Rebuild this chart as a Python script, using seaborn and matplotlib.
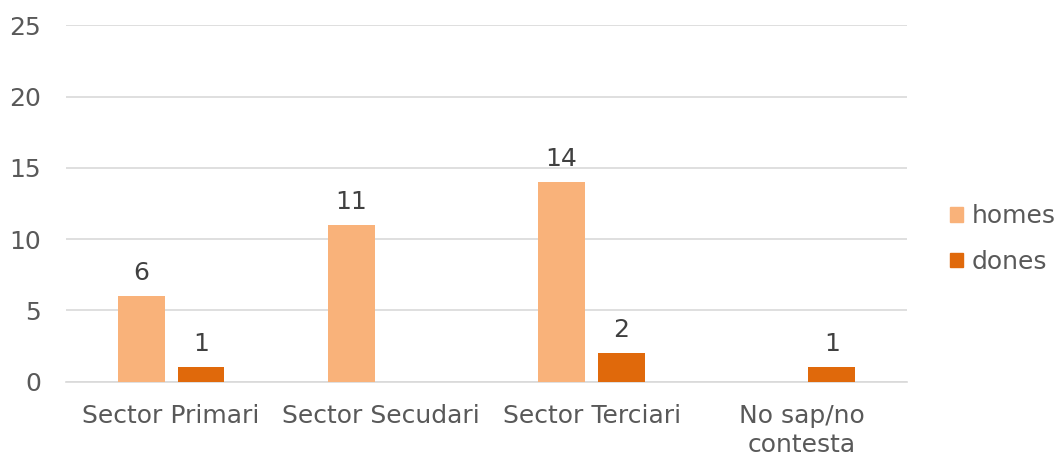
import matplotlib
matplotlib.use("Agg")
import matplotlib.pyplot as plt
import seaborn as sns
import pandas as pd
from matplotlib.patches import Patch

categories = ["Sector Primari", "Sector Secudari", "Sector Terciari", "No sap/no\ncontesta"]
homes = [6, 11, 14, 0]
dones = [1, 0, 2, 1]
series_names = ["homes", "dones"]
y_ticks = [0, 5, 10, 15, 20, 25]

colors = ["#F9B27A", "#E0690B"]

df = pd.DataFrame({
    "cat": categories * 2,
    "val": homes + dones,
    "serie": [series_names[0]] * len(categories) + [series_names[1]] * len(categories),
})

sns.set_theme(style="white")
plt.rcParams['font.family'] = ['DejaVu Sans']

FS = 18

fig = plt.figure(figsize=(10.56, 4.57), dpi=100)
ax = fig.add_axes([66/1056, 1 - 381.7/457, (907-66)/1056, (381.7-25.2)/457])

sns.barplot(data=df, x="cat", y="val", hue="serie", palette=colors,
            width=0.57, gap=0.22, ax=ax, legend=False, saturation=1, zorder=3,
            linewidth=0)

for cont in ax.containers:
    labels = [f"{int(b.get_height())}" if b.get_height() > 0 else "" for b in cont]
    ax.bar_label(cont, labels=labels, padding=8, fontsize=FS, color="#404040")

ax.set_ylim(0, 25)
ax.set_yticks(y_ticks)
ax.set_xlim(-0.5, len(categories) - 0.5)
ax.yaxis.grid(True, color="#D9D9D9", linewidth=1.2, zorder=0)
ax.set_axisbelow(True)
for s in ["top", "right", "left"]:
    ax.spines[s].set_visible(False)
ax.spines["bottom"].set_color("#D9D9D9")
ax.spines["bottom"].set_linewidth(1.2)
ax.tick_params(axis="both", length=0, labelsize=FS, labelcolor="#595959")
ax.tick_params(axis="y", pad=18)
ax.tick_params(axis="x", pad=16)
for t in ax.get_xticklabels():
    t.set_linespacing(1.28)
ax.set_xlabel("")
ax.set_ylabel("")

handles = [Patch(facecolor=c, edgecolor=c) for c in colors]
fig.legend(handles, series_names, loc="center left", bbox_to_anchor=(950/1056, 1 - 239/457),
           frameon=False, fontsize=FS, labelcolor="#595959",
           handlelength=0.5, handleheight=0.5, handletextpad=0.35, labelspacing=0.85,
           borderaxespad=0, borderpad=0)

fig.savefig("out.png", dpi=100)
